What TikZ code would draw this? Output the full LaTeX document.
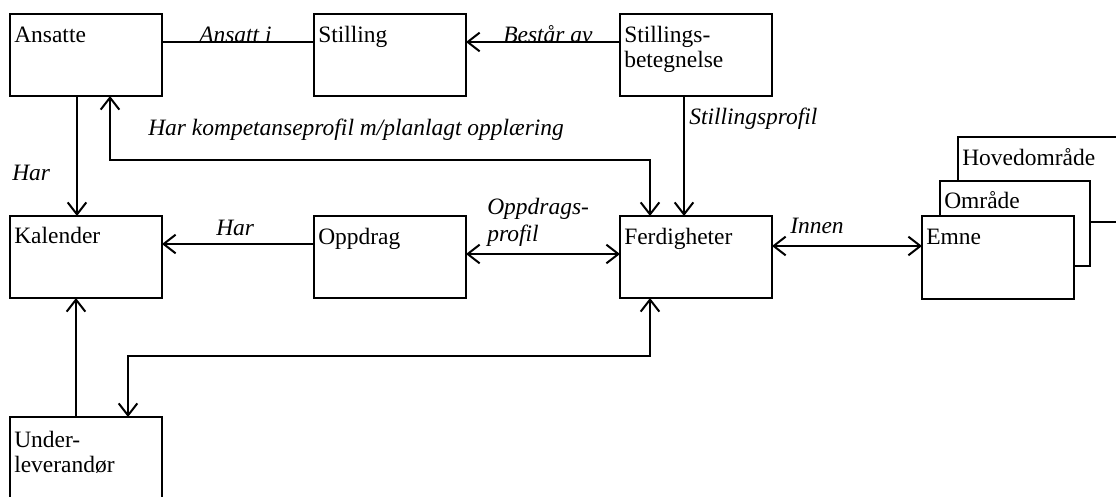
\documentclass[tikz,border=0pt]{standalone}
\usepackage{fontspec}
\setmainfont{Liberation Serif}
\usetikzlibrary{arrows.meta}
\begin{document}
\begin{tikzpicture}[x=0.75pt,y=-0.75pt,
  every node/.style={font=\fontsize{17.6}{19.6}\selectfont},
  box/.style={draw, line width=1.5pt, fill=white, inner sep=0pt, outer sep=0pt,
    anchor=north west, minimum width=114pt, minimum height=61.5pt},
  boxtext/.style={anchor=base west, inner sep=0pt},
  rel/.style={anchor=base west, inner sep=0pt, font=\fontsize{17.6}{19.6}\selectfont\itshape},
  conn/.style={line width=1.5pt},
  tip/.tip={Straight Barb[length=9pt, width=14pt]}]
\clip (0,0) rectangle (1116,496);
\fill[white] (0,0) rectangle (1116,496);

% Entity boxes
\node[box] (ansatte) at (10,14) {};
\node[box] (stilling) at (314,14) {};
\node[box] (stbet) at (620,14) {};
\node[box] (kal) at (10,216) {};
\node[box] (oppd) at (314,216) {};
\node[box] (ferd) at (620,216) {};
\node[box] (underl) at (10,417) {};

% Stacked subject hierarchy
\node[box, minimum width=129pt, minimum height=63.75pt] (hoved) at (958,137) {};
\node[box, minimum width=112.5pt, minimum height=63.75pt] (omr) at (940,181) {};
\node[box, minimum width=114pt, minimum height=62.25pt] (emne) at (922,216) {};

% Box titles
\node[boxtext] (ansatte-t) at ([shift={(4,28)}]ansatte.north west) {Ansatte};
\node[boxtext] (stilling-t) at ([shift={(4,28)}]stilling.north west) {Stilling};
\node[boxtext] (stbet-t1) at ([shift={(4,28)}]stbet.north west) {Stillings-};
\node[boxtext] (stbet-t2) at ([shift={(4,53)}]stbet.north west) {betegnelse};
\node[boxtext] (kal-t) at ([shift={(4,27)}]kal.north west) {Kalender};
\node[boxtext] (oppd-t) at ([shift={(4,28)}]oppd.north west) {Oppdrag};
\node[boxtext] (ferd-t) at ([shift={(4,28)}]ferd.north west) {Ferdigheter};
\node[boxtext] (underl-t1) at ([shift={(4,30)}]underl.north west) {Under-};
\node[boxtext] (underl-t2) at ([shift={(4,55)}]underl.north west) {leverandør};
\node[boxtext] (hoved-t) at ([shift={(4,28)}]hoved.north west) {Hovedområde};
\node[boxtext] (omr-t) at ([shift={(4,27)}]omr.north west) {Område};
\node[boxtext] (emne-t) at ([shift={(4,28)}]emne.north west) {Emne};

% Relationships
\draw[conn] ([yshift=-21pt]ansatte.north east) -- ([yshift=-21pt]stilling.north west);
\node[rel] (l-ansatt) at (199,42) {Ansatt i};

\draw[conn,-tip] ([yshift=-21pt]stbet.north west) -- ([yshift=-21pt]stilling.north east);
\node[rel] (l-bestar) at (503,42) {Består av};

\draw[conn,-tip] ([xshift=-9pt]stbet.south) -- ([xshift=-9pt]ferd.north);
\node[rel] (l-stprof) at (689,124) {Stillingsprofil};

\draw[conn,tip-tip] ([xshift=18pt]ansatte.south) -- ++(0,64) -| ([xshift=-34.5pt]ferd.north);
\node[rel] (l-kompet) at (148,135) {Har kompetanseprofil m/planlagt opplæring};

\draw[conn,-tip] ([xshift=-6.75pt]ansatte.south) -- ([xshift=-6.75pt]kal.north);
\node[rel] (l-har1) at (12,180) {Har};

\draw[conn,-tip] ([yshift=-21pt]oppd.north west) -- ([yshift=-21pt]kal.north east);
\node[rel] (l-har2) at (216,235) {Har};

\draw[conn,tip-tip] ([yshift=-28.5pt]oppd.north east) -- ([yshift=-28.5pt]ferd.north west);
\node[rel] (l-oppd1) at (487,214) {Oppdrags-};
\node[rel] (l-oppd2) at (487,241) {profil};

\draw[conn,tip-tip] ([yshift=-22.5pt]ferd.north east) -- ([yshift=-22.5pt]emne.north west);
\node[rel] (l-innen) at (790,233) {Innen};

\draw[conn,-tip] ([xshift=-7.5pt]underl.north) -- ([xshift=-7.5pt]kal.south);

\draw[conn,tip-tip] ([xshift=-34.5pt]ferd.south) -- ++(0,58) -| ([xshift=31.5pt]underl.north);
\end{tikzpicture}
\end{document}
